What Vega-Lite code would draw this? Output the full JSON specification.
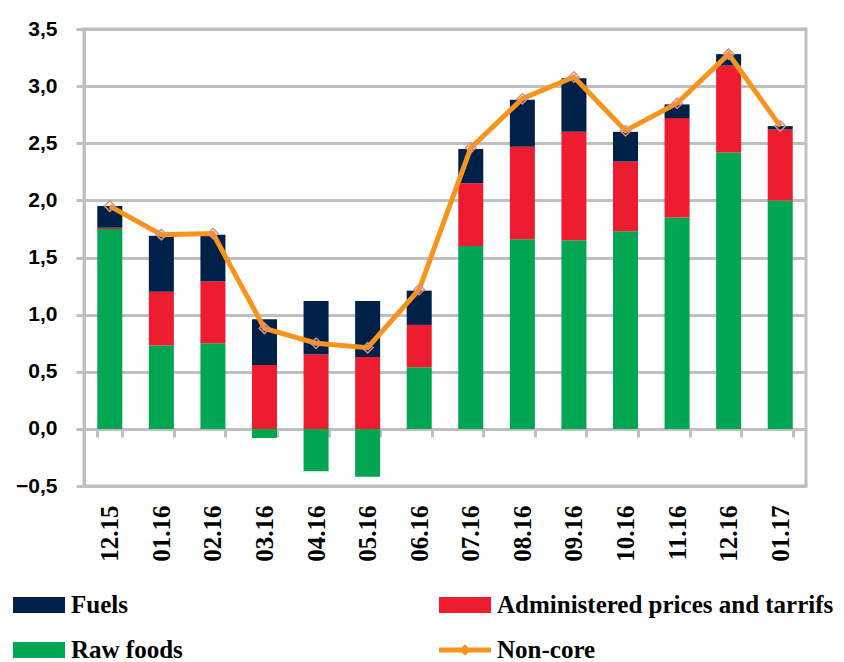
{
  "$schema": "https://vega.github.io/schema/vega-lite/v6.json",
  "width": 722,
  "height": 457,
  "autosize": {"type": "none"},
  "padding": {"left": 84, "top": 29, "right": 38, "bottom": 176},
  "background": "white",
  "config": {"view": {"stroke": "#BFBFBF", "strokeWidth": 3}},
  "datasets": {
    "bars": [
      {"month": "12.15", "series": "Raw foods", "value": 1.75},
      {"month": "12.15", "series": "Administered prices and tarrifs", "value": 0.01},
      {"month": "12.15", "series": "Fuels", "value": 0.19},
      {"month": "01.16", "series": "Raw foods", "value": 0.73},
      {"month": "01.16", "series": "Administered prices and tarrifs", "value": 0.47},
      {"month": "01.16", "series": "Fuels", "value": 0.49},
      {"month": "02.16", "series": "Raw foods", "value": 0.75},
      {"month": "02.16", "series": "Administered prices and tarrifs", "value": 0.54},
      {"month": "02.16", "series": "Fuels", "value": 0.41},
      {"month": "03.16", "series": "Raw foods", "value": -0.08},
      {"month": "03.16", "series": "Administered prices and tarrifs", "value": 0.56},
      {"month": "03.16", "series": "Fuels", "value": 0.40},
      {"month": "04.16", "series": "Raw foods", "value": -0.37},
      {"month": "04.16", "series": "Administered prices and tarrifs", "value": 0.65},
      {"month": "04.16", "series": "Fuels", "value": 0.47},
      {"month": "05.16", "series": "Raw foods", "value": -0.42},
      {"month": "05.16", "series": "Administered prices and tarrifs", "value": 0.63},
      {"month": "05.16", "series": "Fuels", "value": 0.49},
      {"month": "06.16", "series": "Raw foods", "value": 0.54},
      {"month": "06.16", "series": "Administered prices and tarrifs", "value": 0.37},
      {"month": "06.16", "series": "Fuels", "value": 0.30},
      {"month": "07.16", "series": "Raw foods", "value": 1.60},
      {"month": "07.16", "series": "Administered prices and tarrifs", "value": 0.55},
      {"month": "07.16", "series": "Fuels", "value": 0.30},
      {"month": "08.16", "series": "Raw foods", "value": 1.66},
      {"month": "08.16", "series": "Administered prices and tarrifs", "value": 0.81},
      {"month": "08.16", "series": "Fuels", "value": 0.41},
      {"month": "09.16", "series": "Raw foods", "value": 1.65},
      {"month": "09.16", "series": "Administered prices and tarrifs", "value": 0.95},
      {"month": "09.16", "series": "Fuels", "value": 0.47},
      {"month": "10.16", "series": "Raw foods", "value": 1.73},
      {"month": "10.16", "series": "Administered prices and tarrifs", "value": 0.61},
      {"month": "10.16", "series": "Fuels", "value": 0.26},
      {"month": "11.16", "series": "Raw foods", "value": 1.85},
      {"month": "11.16", "series": "Administered prices and tarrifs", "value": 0.87},
      {"month": "11.16", "series": "Fuels", "value": 0.12},
      {"month": "12.16", "series": "Raw foods", "value": 2.42},
      {"month": "12.16", "series": "Administered prices and tarrifs", "value": 0.76},
      {"month": "12.16", "series": "Fuels", "value": 0.10},
      {"month": "01.17", "series": "Raw foods", "value": 2.00},
      {"month": "01.17", "series": "Administered prices and tarrifs", "value": 0.62},
      {"month": "01.17", "series": "Fuels", "value": 0.03}
    ],
    "line": [
      {"month": "12.15", "noncore": 1.95},
      {"month": "01.16", "noncore": 1.70},
      {"month": "02.16", "noncore": 1.71},
      {"month": "03.16", "noncore": 0.88},
      {"month": "04.16", "noncore": 0.75},
      {"month": "05.16", "noncore": 0.71},
      {"month": "06.16", "noncore": 1.22},
      {"month": "07.16", "noncore": 2.46},
      {"month": "08.16", "noncore": 2.89},
      {"month": "09.16", "noncore": 3.08},
      {"month": "10.16", "noncore": 2.61},
      {"month": "11.16", "noncore": 2.85},
      {"month": "12.16", "noncore": 3.28},
      {"month": "01.17", "noncore": 2.65}
    ]
  },
  "layer": [
    {
      "data": {"name": "bars"},
      "transform": [
        {"calculate": "indexof(['Raw foods','Administered prices and tarrifs','Fuels'], datum.series)", "as": "stackOrder"}
      ],
      "mark": {"type": "bar"},
      "encoding": {
        "x": {
          "field": "month", "type": "nominal",
          "sort": ["12.15","01.16","02.16","03.16","04.16","05.16","06.16","07.16","08.16","09.16","10.16","11.16","12.16","01.17"],
          "scale": {"paddingInner": 0.515, "paddingOuter": 0.2575},
          "axis": {
            "title": null,
            "offset": -57.1,
            "domain": true, "domainColor": "#BFBFBF", "domainWidth": 3,
            "ticks": true, "tickBand": "extent", "tickColor": "#BFBFBF", "tickWidth": 3, "tickSize": 8,
            "labelAngle": -90, "labelPadding": 68,
            "labelFont": "Liberation Serif", "labelFontSize": 25, "labelFontWeight": "bold", "labelColor": "#000000",
            "grid": false
          }
        },
        "y": {
          "field": "value", "type": "quantitative", "stack": "zero",
          "scale": {"domain": [-0.5, 3.5], "nice": false, "zero": false},
          "axis": {
            "title": null,
            "values": [-0.5, 0, 0.5, 1, 1.5, 2, 2.5, 3, 3.5],
            "labelExpr": "replace(format(datum.value, '.1f'), '.', ',')",
            "grid": true, "gridColor": "#BFBFBF", "gridWidth": 3,
            "domain": true, "domainColor": "#BFBFBF", "domainWidth": 3,
            "ticks": true, "tickColor": "#BFBFBF", "tickWidth": 3, "tickSize": 8,
            "labelFont": "Liberation Sans", "labelFontSize": 21, "labelFontWeight": "bold", "labelColor": "#000000",
            "labelPadding": 19
          }
        },
        "color": {
          "field": "series", "type": "nominal",
          "scale": {
            "domain": ["Fuels", "Raw foods", "Administered prices and tarrifs", "Non-core"],
            "range": ["#002147", "#00A651", "#ED1C2E", "#F7941D"]
          },
          "legend": {
            "title": null,
            "orient": "none", "legendX": -58, "legendY": 563,
            "columns": 2, "columnPadding": 256, "rowPadding": 19,
            "symbolSize": 676,
            "labelFont": "Liberation Serif", "labelFontSize": 25, "labelFontWeight": "bold", "labelColor": "#000000",
            "labelOffset": 19, "labelLimit": 500,
            "encode": {
              "symbols": {
                "update": {
                  "shape": {"signal": "datum.value === 'Non-core' ? 'M-2,-0.19H2V0.19H-2Z M0,-0.45L0.45,0L0,0.45L-0.45,0Z' : 'M-2,-0.62H2V0.62H-2Z'"},
                  "fill": {"signal": "datum.value === 'Fuels' ? '#002147' : datum.value === 'Raw foods' ? '#00A651' : datum.value === 'Non-core' ? '#F7941D' : '#ED1C2E'"},
                  "stroke": {"value": "transparent"},
                  "strokeWidth": {"value": 0},
                  "opacity": {"value": 1},
                  "fillOpacity": {"value": 1}
                }
              }
            }
          }
        },
        "order": {"field": "stackOrder", "type": "quantitative"}
      }
    },
    {
      "data": {"name": "line"},
      "mark": {"type": "line", "strokeWidth": 5},
      "encoding": {
        "x": {"field": "month", "type": "nominal", "sort": ["12.15","01.16","02.16","03.16","04.16","05.16","06.16","07.16","08.16","09.16","10.16","11.16","12.16","01.17"]},
        "y": {"field": "noncore", "type": "quantitative", "scale": {"domain": [-0.5, 3.5], "nice": false, "zero": false}},
        "color": {"datum": "Non-core", "type": "nominal"}
      }
    },
    {
      "data": {"name": "line"},
      "mark": {"type": "point", "shape": "diamond", "filled": false, "stroke": "#D4918E", "strokeWidth": 1.5, "size": 110, "opacity": 1},
      "encoding": {
        "x": {"field": "month", "type": "nominal", "sort": ["12.15","01.16","02.16","03.16","04.16","05.16","06.16","07.16","08.16","09.16","10.16","11.16","12.16","01.17"]},
        "y": {"field": "noncore", "type": "quantitative", "scale": {"domain": [-0.5, 3.5], "nice": false, "zero": false}}
      }
    }
  ]
}
